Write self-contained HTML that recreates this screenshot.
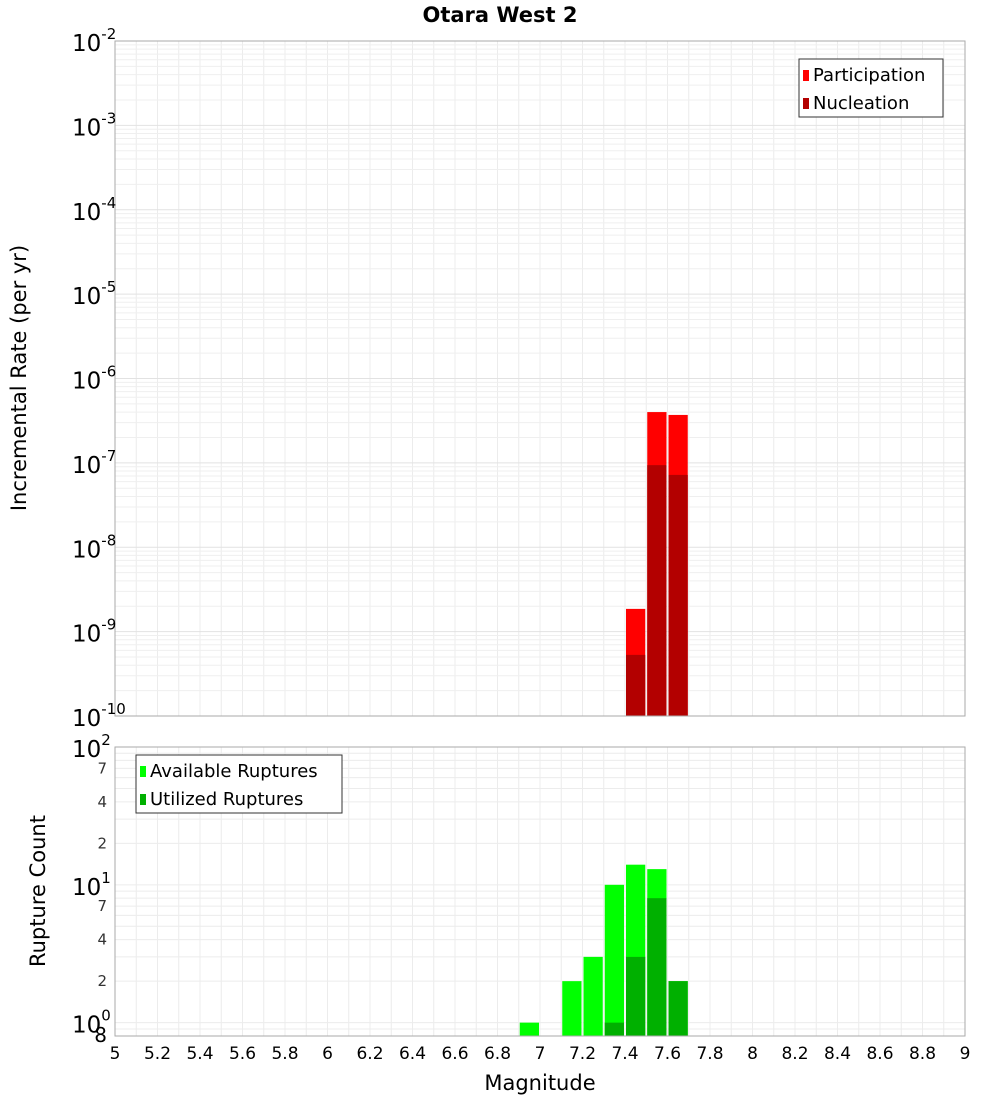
<!DOCTYPE html>
<html><head><meta charset="utf-8">
<style>
body{margin:0;background:#fff;font-family:"Liberation Sans","DejaVu Sans",sans-serif;}
svg text{font-family:"DejaVu Sans","Liberation Sans",sans-serif;}
</style></head>
<body>
<svg id="c" width="1000" height="1100" xmlns="http://www.w3.org/2000/svg"></svg>
<script>
const mags = [7.45, 7.55, 7.65];
const participation = [1.86e-9, 4.0e-7, 3.7e-7];
const nucleation = [5.3e-10, 9.4e-8, 7.2e-8];
const countMags = [6.95, 7.15, 7.25, 7.35, 7.45, 7.55, 7.65];
const available = [1, 2, 3, 10, 14, 13, 2];
const utilized = [0, 0, 0, 1, 3, 8, 2];
const xTicks = [5,5.2,5.4,5.6,5.8,6,6.2,6.4,6.6,6.8,7,7.2,7.4,7.6,7.8,8,8.2,8.4,8.6,8.8,9];

const NS="http://www.w3.org/2000/svg";
const svg=document.getElementById('c');
function el(tag,attrs,parent){const e=document.createElementNS(NS,tag);for(const k in attrs)e.setAttribute(k,attrs[k]);(parent||svg).appendChild(e);return e;}
const L=115,R=965;
const T1=41,B1=716,T2=747,B2=1036;
const x=v=>L+(v-5)/4*(R-L);
const y1=v=>B1-(Math.log10(v)+10)/8*(B1-T1);
const y2lo=0.8, y2hi=100;
const y2=v=>B2-(Math.log10(v)-Math.log10(y2lo))/(Math.log10(y2hi)-Math.log10(y2lo))*(B2-T2);

// grids
const g=el('g',{});


for(let v=5;v<=9.001;v+=0.1){const xx=x(v);
  el('line',{x1:xx,x2:xx,y1:T1,y2:B1,stroke:'#ececec','stroke-width':1},g);
  el('line',{x1:xx,x2:xx,y1:T2,y2:B2,stroke:'#ececec','stroke-width':1},g);}
for(let d=-10;d<-2;d++)for(let m=1;m<10;m++){const yy=y1(m*Math.pow(10,d));
  el('line',{x1:L,x2:R,y1:yy,y2:yy,stroke:m==1?'#e2e2e2':'#efefef','stroke-width':1},g);}
[0.8,0.9,1,2,3,4,5,6,7,8,9,10,20,30,40,50,60,70,80,90,100].forEach(v=>{const yy=y2(v);
  el('line',{x1:L,x2:R,y1:yy,y2:yy,stroke:'#ececec','stroke-width':1},g);});

const bw=(R-L)/40;
// top bars
mags.forEach((m,i)=>{
  let b=el('rect',{x:x(m)-bw/2+1,y:y1(participation[i]),width:bw-2,height:B1-y1(participation[i]),fill:'#ff0000'});
  
  
  b=el('rect',{x:x(m)-bw/2+1,y:y1(nucleation[i]),width:bw-2,height:B1-y1(nucleation[i]),fill:'#b30000'});
  
  
});
countMags.forEach((m,i)=>{
  let b=el('rect',{x:x(m)-bw/2+1,y:y2(available[i]),width:bw-2,height:B2-y2(available[i]),fill:'#00ff00'});
  
  
  if(utilized[i]>0){
  b=el('rect',{x:x(m)-bw/2+1,y:y2(utilized[i]),width:bw-2,height:B2-y2(utilized[i]),fill:'#00b000'});
  
  }
});
// frames
el('rect',{x:L,y:T1,width:R-L,height:B1-T1,fill:'none',stroke:'#aaa','stroke-width':1});
el('rect',{x:L,y:T2,width:R-L,height:B2-T2,fill:'none',stroke:'#aaa','stroke-width':1});

// top y labels
for(let d=-10;d<=-2;d++){const yy=y1(Math.pow(10,d));
  const t=el('text',{x:106,y:yy+10,'text-anchor':'end','font-size':23,fill:'#000'});
  
  
  t.innerHTML='10<tspan dy="-12" font-size="15">'+d+'</tspan>';
  t.setAttribute('x',72);t.setAttribute('text-anchor','start');}
// bottom y labels
[[100,'10','2'],[10,'10','1'],[1,'10','0']].forEach(([v,b,e])=>{
  const t=el('text',{x:72,y:y2(v)+10,'font-size':23,fill:'#000'});
  
  
  t.innerHTML=b+'<tspan dy="-12" font-size="15">'+e+'</tspan>';});
[[70,'7'],[40,'4'],[20,'2'],[7,'7'],[4,'4'],[2,'2'],[0.8,'8']].forEach(([v,s])=>{
  const t=el('text',{x:107,y:y2(v)+(v==0.8?6:5),'text-anchor':'end','font-size':v==0.8?20:15,fill:v==0.8?'#000':'#333'});
  
  
  t.textContent=s;});
// x labels
xTicks.forEach(v=>{const t=el('text',{x:x(v),y:1059,'text-anchor':'middle','font-size':17,fill:'#000'});
  
  
  t.textContent=String(v);});
// titles
let t=el('text',{x:500,y:22,'text-anchor':'middle','font-size':21,'font-weight':'bold'});
t.textContent='Otara West 2';
t=el('text',{x:540,y:1090,'text-anchor':'middle','font-size':21});
t.textContent='Magnitude';
t=el('text',{x:0,y:0,'text-anchor':'middle','font-size':21,transform:'translate(26,378) rotate(-90)'});
t.textContent='Incremental Rate (per yr)';
t=el('text',{x:0,y:0,'text-anchor':'middle','font-size':21,transform:'translate(45,891) rotate(-90)'});
t.textContent='Rupture Count';
// legends
function legend(x0,y0,w,items,name){const lg=el('g',{});
  
  el('rect',{x:x0,y:y0,width:w,height:58,fill:'#fff',stroke:'#333','stroke-width':1},lg);
  items.forEach(([c,s],i)=>{el('rect',{x:x0+4,y:y0+11+i*28,width:6,height:11,fill:c},lg);
    const tt=el('text',{x:x0+14,y:y0+22+i*28,'font-size':18},lg);
    tt.textContent=s;});}
legend(799,59,144,[['#ff0000','Participation'],['#b30000','Nucleation']],'legend-top');
legend(136,755,206,[['#00ff00','Available Ruptures'],['#00b000','Utilized Ruptures']],'legend-bottom');
</script>
</body></html>
